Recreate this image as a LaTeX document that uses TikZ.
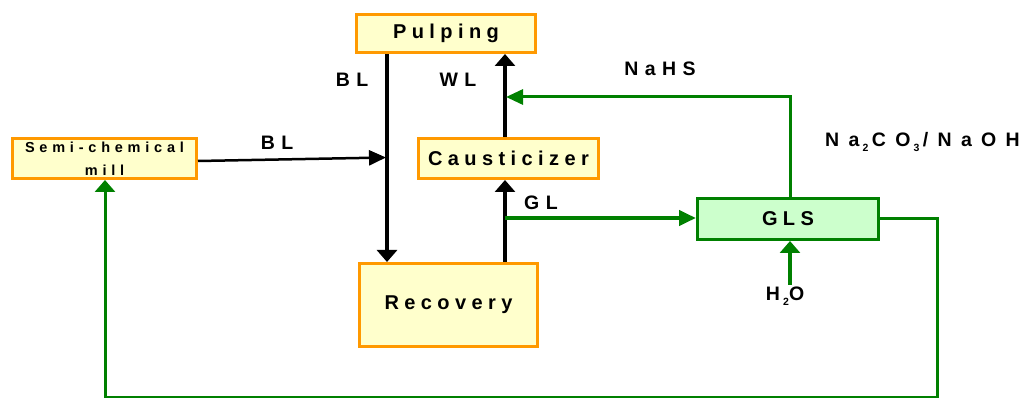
\documentclass[tikz,border=0pt]{standalone}
\usepackage{fontspec}
\setmainfont{Liberation Sans}
\newfontfamily\labfont{Liberation Sans}[LetterSpace=33]
\newfontfamily\nafont{Liberation Sans}[LetterSpace=48]
\newfontfamily\boxfont{Liberation Sans}[LetterSpace=27]
\newfontfamily\semifont{Liberation Sans}[LetterSpace=33]
\usetikzlibrary{arrows.meta}
\definecolor{orng}{HTML}{FF9900}
\definecolor{pyell}{HTML}{FFFFCC}
\definecolor{grn}{HTML}{008000}
\definecolor{pgrn}{HTML}{CCFFCC}
\newcommand{\sbs}[1]{\raisebox{-5pt}{\fontsize{10.5}{11}\selectfont #1}}
\tikzset{
  procbox/.style={draw=orng, fill=pyell, line width=3pt, inner sep=0pt,
    font=\boxfont\bfseries\fontsize{20}{22}\selectfont},
  glsbox/.style={draw=grn, fill=pgrn, line width=3pt, inner sep=0pt,
    font=\boxfont\bfseries\fontsize{20}{22}\selectfont},
  lab/.style={inner sep=0pt, font=\labfont\bfseries\fontsize{19.5}{21}\selectfont},
  varrow/.style={-{Triangle[length=12pt,width=20pt]}},
  harrow/.style={-{Triangle[length=17pt,width=15pt]}},
  blackflow/.style={line width=3.5pt, black},
  greenflow/.style={line width=3pt, grn},
  greenthick/.style={line width=4pt, grn}
}
\begin{document}
\begin{tikzpicture}[x=1pt,y=-1pt]
\useasboundingbox (0,0) rectangle (1026,398);
% boxes
\node[procbox, minimum width=179pt, minimum height=38pt] (pulp) at (446,33.5) {Pulping};
\node[procbox, minimum width=184pt, minimum height=40pt, align=center,
  font=\semifont\bfseries\fontsize{14.5}{23}\selectfont] (semi) at (104.5,158.5) {Semi-chemical\\mill};
\node[procbox, minimum width=180pt, minimum height=40pt] (caus) at (508.5,158.5) {Causticizer};
\node[procbox, minimum width=178pt, minimum height=83pt] (rec) at (448.5,305) {Recovery};
\node[glsbox, minimum width=181pt, minimum height=41pt] (gls) at (788,219) {GLS};
% helper coordinates
\coordinate (blx) at (387,0);
\coordinate (wlx) at (505,0);
\coordinate (glsx) at (790,0);
\coordinate (bly) at (0,161);
\coordinate (bltip) at (386,157.5);
\coordinate (nahsy) at (0,97);
\coordinate (gly) at (0,218);
\coordinate (h2o) at (790,285);
\coordinate (rx) at (937,0);
\coordinate (boty) at (0,397);
\coordinate (lx) at (105,0);
% black flows
\draw[blackflow, varrow] (pulp.south -| blx) -- (rec.north -| blx);
\draw[blackflow, varrow] (caus.north -| wlx) -- (pulp.south -| wlx);
\draw[blackflow, varrow] (rec.north -| wlx) -- (caus.south -| wlx);
\draw[line width=2.5pt, harrow] (semi.east |- bly) -- (bltip);
% green flows
\draw[greenflow, harrow] (gls.north -| glsx) -- (glsx |- nahsy) -- ([xshift=1pt]wlx |- nahsy);
\draw[greenthick, harrow] (wlx |- gly) -- (gls.west |- gly);
\draw[greenthick, varrow] (h2o) -- (gls.south -| h2o);
\draw[greenflow, varrow] (gls.east) -- (rx |- gls.east) -- (rx |- boty) -- (lx |- boty) -- (semi.south -| lx);
% labels
\node[lab] (lbl1) at (352,80) {BL};
\node[lab] (lwl) at (458,80) {WL};
\node[lab] (lbl2) at (277,143) {BL};
\node[lab] (lnahs) at (660,69) {NaHS};
\node[lab, anchor=west, font=\nafont\bfseries\fontsize{19.5}{21}\selectfont] (lna) at (825,142) {Na\,\sbs{2}\,CO\,\sbs{3}\,/NaOH};
\node[lab] (lgl) at (541,203) {GL};
\node[lab] (lh2o) at (785,296) {H\,\sbs{2}O};
\end{tikzpicture}
\end{document}
